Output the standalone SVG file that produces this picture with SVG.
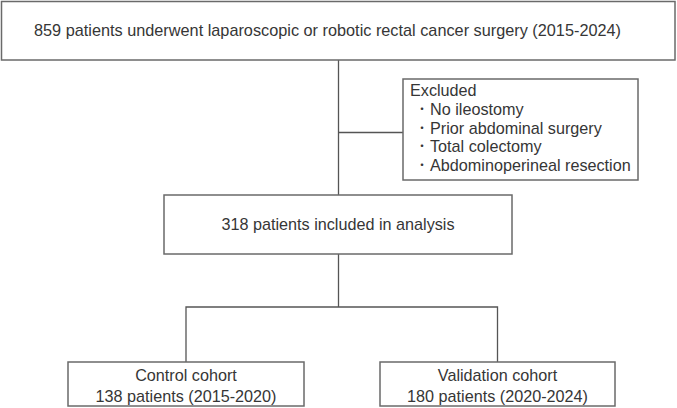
<svg xmlns="http://www.w3.org/2000/svg" width="677" height="408" viewBox="0 0 677 408">
  <style>
    .box { fill: #ffffff; stroke: #6a6a6a; stroke-width: 1.5; }
    .t { font-family: "Liberation Sans", Arial, sans-serif; font-size: 16.2px; fill: #363636; }
    .b { font-family: "Noto Sans CJK JP", sans-serif; font-size: 12px; }
    .mid { text-anchor: middle; }
    .ln { stroke: #555555; stroke-width: 1.3; fill: none; }
  </style>
  <rect width="677" height="408" fill="#ffffff"/>
  <g id="connectors">
    <line class="ln" x1="338.5" y1="60" x2="338.5" y2="195"/>
    <line class="ln" x1="338.5" y1="132.5" x2="403" y2="132.5"/>
    <line class="ln" x1="338.5" y1="254" x2="338.5" y2="307"/>
    <polyline class="ln" points="186,362 186,307 497.5,307 497.5,362"/>
  </g>
  <g id="node-total">
    <rect class="box" x="1.5" y="1.5" width="673.5" height="58.5"/>
    <text class="t" x="34" y="36" textLength="587" lengthAdjust="spacingAndGlyphs">859 patients underwent laparoscopic or robotic rectal cancer surgery (2015-2024)</text>
  </g>
  <g id="node-excluded">
    <rect class="box" x="403" y="79" width="235" height="101"/>
    <text class="t" x="410" y="96">Excluded</text>
    <text class="t" x="416" y="113.5"><tspan class="b">・</tspan><tspan x="430" y="114.5">No ileostomy</tspan></text>
    <text class="t" x="416" y="132.5"><tspan class="b">・</tspan><tspan x="430" y="133.5">Prior abdominal surgery</tspan></text>
    <text class="t" x="416" y="151"><tspan class="b">・</tspan><tspan x="430" y="152">Total colectomy</tspan></text>
    <text class="t" x="416" y="169.5"><tspan class="b">・</tspan><tspan x="430" y="170.5">Abdominoperineal resection</tspan></text>
  </g>
  <g id="node-included">
    <rect class="box" x="164" y="195" width="348" height="59"/>
    <text class="t mid" x="338" y="229.5">318 patients included in analysis</text>
  </g>
  <g id="node-control">
    <rect class="box" x="68" y="362" width="236" height="44"/>
    <text class="t mid" x="186" y="381">Control cohort</text>
    <text class="t mid" x="186" y="401.5">138 patients (2015-2020)</text>
  </g>
  <g id="node-validation">
    <rect class="box" x="380" y="362" width="235" height="44"/>
    <text class="t mid" x="497.5" y="381">Validation cohort</text>
    <text class="t mid" x="497.5" y="401.5">180 patients (2020-2024)</text>
  </g>
</svg>
